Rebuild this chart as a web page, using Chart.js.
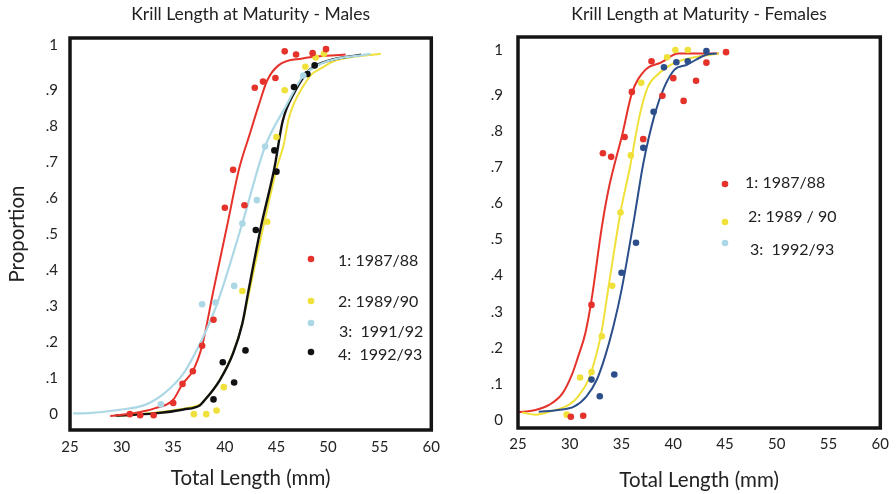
<!DOCTYPE html>
<html>
<head>
<meta charset="utf-8">
<script src="https://cdn.jsdelivr.net/npm/chart.js@4/dist/chart.umd.min.js"></script>
<style>
  body { margin: 0; background: #fff; }
  #wrap { position: relative; width: 896px; height: 494px; }
  canvas { position: absolute; top: 0; }
  #males { left: 0; }
  #females { left: 448px; }
</style>
</head>
<body>
<div id="wrap">
  <canvas id="males" width="448" height="494"></canvas>
  <canvas id="females" width="448" height="494"></canvas>
</div>
<script>
const FONT = 'Lato, "Open Sans", sans-serif';
const RED = '#e5322b';
const YELLOW = '#efe13a';
const LIGHTBLUE = '#acd8e5';
const BLACK = '#111111';
const NAVY = '#2c4f8c';

const xMin = 25, xMax = 60, xStep = 5;
// the "1" label sits a bit higher than a linear step above .9
const yTickValues = [0, 0.1, 0.2, 0.3, 0.4, 0.5, 0.6, 0.7, 0.8, 0.9, 1.025];
const yTickLabels = ['0', '.1', '.2', '.3', '.4', '.5', '.6', '.7', '.8', '.9', '1'];

// males - observed proportions [length mm, proportion]
const male1987 = [[30.8,0],[31.8,-0.003],[33.1,-0.003],[35.0,0.031],[35.9,0.084],[36.9,0.119],[37.8,0.19],[38.9,0.262],
  [40.0,0.573],[40.8,0.678],[41.9,0.58],[42.9,0.906],[43.7,0.923],[44.9,0.933],[45.8,1.007],[46.9,0.998],[48.5,1.002],[49.8,1.013]];
const male1989 = [[37.0,0],[38.2,0],[39.2,0.01],[39.9,0.075],[41.7,0.342],[44.1,0.534],[45.0,0.769],[45.8,0.899],
  [47.8,0.964],[48.8,0.99],[49.6,1.0]];
const male1991 = [[33.8,0.027],[37.8,0.305],[39.1,0.31],[40.9,0.356],[41.7,0.529],[43.1,0.594],[43.9,0.743],[47.6,0.94]];
const male1992 = [[38.9,0.041],[39.8,0.144],[40.9,0.088],[42.0,0.177],[43.0,0.511],[45.0,0.673],[44.8,0.732],
  [46.7,0.908],[48.0,0.944],[48.7,0.968]];

// males - fitted curves
const male1987Fit = [[28.9,-0.005],[31.0,0.002],[33.2,0.016],[35.0,0.04],[35.9,0.084],[36.9,0.12],[37.8,0.19],[38.9,0.344],
  [40.2,0.52],[41.4,0.683],[42.4,0.776],[43.3,0.859],[44.1,0.926],[45.2,0.968],[47.5,0.987],[51.7,0.998]];
const male1989Fit = [[29.6,-0.005],[33.2,0.004],[36.0,0.015],[37.6,0.027],[37.9,0.034],[39.5,0.094],[40.8,0.17],[41.7,0.252],
  [42.4,0.344],[43.8,0.53],[45.1,0.69],[45.7,0.748],[46.2,0.822],[46.8,0.869],[47.5,0.906],[48.4,0.943],[49.4,0.961],
  [50.6,0.98],[55.1,1.0]];
const male1991Fit = [[25.3,0.002],[26.8,0.003],[30.0,0.013],[32.2,0.025],[34.1,0.057],[36.0,0.113],[37.6,0.196],[38.9,0.28],
  [39.7,0.344],[41.7,0.53],[43.9,0.743],[45.9,0.854],[47.6,0.939],[49.4,0.974],[54.1,1.0]];
const male1992Fit = [[29.4,-0.004],[33.2,0.002],[36.0,0.013],[37.6,0.025],[37.9,0.034],[39.5,0.094],[40.8,0.169],[41.7,0.252],
  [42.3,0.344],[43.5,0.52],[44.8,0.683],[45.6,0.813],[46.8,0.896],[48.1,0.952],[49.4,0.975],[53.2,0.998]];

// females - observed proportions
const female1987 = [[30.1,0.009],[31.3,0.012],[32.1,0.319],[33.2,0.739],[34.0,0.729],[35.3,0.784],[36.0,0.909],[37.1,0.778],
  [37.9,0.994],[38.95,0.898],[40.0,0.947],[41.0,0.884],[42.2,0.94],[43.2,0.99],[45.1,1.019]];
const female1989 = [[29.7,0.015],[31.0,0.118],[32.1,0.133],[33.1,0.232],[34.1,0.372],[34.9,0.575],[35.9,0.733],[36.9,0.934],
  [39.4,1.005],[40.2,1.025],[41.4,1.025]];
const female1992 = [[32.1,0.112],[32.9,0.066],[34.3,0.126],[35.0,0.408],[36.4,0.491],[37.1,0.754],[38.1,0.854],[39.1,0.977],
  [40.3,0.991],[41.4,0.994],[43.2,1.022]];

// females - fitted curves
const female1987Fit = [[24.8,0.021],[26.7,0.028],[28.0,0.042],[29.3,0.074],[30.2,0.125],[30.8,0.175],[31.5,0.24],[32.1,0.332],
  [33.1,0.535],[33.8,0.646],[35.1,0.794],[36.0,0.905],[37.3,0.97],[38.8,0.99],[40.5,1.015],[44.4,1.015]];
const female1989Fit = [[25.4,0.021],[26.7,0.015],[28.0,0.023],[29.9,0.042],[30.8,0.065],[31.8,0.111],[32.6,0.185],[33.1,0.249],
  [33.7,0.36],[34.9,0.575],[35.8,0.698],[36.7,0.837],[37.5,0.92],[38.5,0.957],[40.1,0.989],[41.7,1.003],[44.4,1.015]];
const female1992Fit = [[27.0,0.023],[28.9,0.028],[30.4,0.037],[31.6,0.065],[32.6,0.111],[33.4,0.175],[34.2,0.258],[35.0,0.36],
  [36.25,0.563],[37.1,0.71],[38.2,0.846],[39.1,0.92],[40.1,0.97],[41.3,0.984],[43.2,1.012],[44.2,1.015]];

const maleLegend = ['1: 1987/88', '2: 1989/90', '3:  1991/92', '4:  1992/93'];
const maleLegendColors = [RED, YELLOW, LIGHTBLUE, BLACK];
const femaleLegend = ['1: 1987/88', '2: 1989 / 90', '3:  1992/93'];
const femaleLegendColors = [RED, YELLOW, LIGHTBLUE];

function pts(arr) {
  return arr.map(p => ({ x: p[0], y: p[1] }));
}

function dots(arr, color) {
  return { data: pts(arr), showLine: false, pointRadius: 3.3, pointBorderWidth: 0,
    pointBackgroundColor: color, backgroundColor: color, borderColor: color, order: 0 };
}

function curve(arr, color, width) {
  return { data: pts(arr), showLine: true, pointRadius: 0, borderColor: color, borderWidth: width,
    cubicInterpolationMode: 'monotone', fill: false, order: 1 };
}

// thick black box round the plot
const framePlugin = {
  id: 'frame',
  afterDraw(chart) {
    const a = chart.chartArea;
    const ctx = chart.ctx;
    ctx.save();
    ctx.strokeStyle = '#151515';
    ctx.lineWidth = 3.5;
    ctx.strokeRect(a.left, a.top, a.right - a.left, a.bottom - a.top);
    ctx.restore();
  }
};

// legend drawn inside the plot, as in the figure
const dotLegendPlugin = {
  id: 'dotLegend',
  afterDraw(chart, args, opts) {
    const ctx = chart.ctx;
    ctx.save();
    ctx.font = opts.size + 'px ' + FONT;
    ctx.textBaseline = 'middle';
    ctx.textAlign = 'left';
    opts.labels.forEach((label, i) => {
      ctx.fillStyle = opts.colors[i];
      ctx.beginPath();
      ctx.arc(opts.dotX, opts.dotY[i], 3.3, 0, Math.PI * 2);
      ctx.fill();
      ctx.fillStyle = '#222';
      ctx.fillText(label, opts.textX[i], opts.textY[i]);
    });
    ctx.restore();
  }
};

function makeOptions(cfg) {
  return {
    responsive: false,
    animation: false,
    layout: { padding: { top: 0, right: cfg.padRight, bottom: 0, left: 0 } },
    plugins: {
      legend: { display: false },
      tooltip: { enabled: false },
      title: {
        display: true, text: cfg.title, fullSize: false, color: '#222',
        font: { family: FONT, size: 17.5, weight: 'normal' },
        padding: { top: 3.5, bottom: cfg.titleGap }
      },
      dotLegend: cfg.legend
    },
    scales: {
      x: {
        type: 'linear', min: xMin, max: xMax,
        grid: { display: false, drawTicks: false },
        border: { display: false },
        ticks: { stepSize: xStep, padding: cfg.xTickPad, color: '#222', font: { family: FONT, size: 15 } },
        title: {
          display: true, text: 'Total Length (mm)', color: '#222',
          font: { family: FONT, size: 20.5 }, padding: { top: 0, bottom: cfg.xTitlePad }
        },
        afterFit: s => { s.height = cfg.xHeight; }
      },
      y: {
        type: 'linear', min: cfg.yMin, max: cfg.yMax,
        grid: { display: false, drawTicks: false },
        border: { display: false },
        afterBuildTicks: s => { s.ticks = yTickValues.map(v => ({ value: v })); },
        ticks: {
          autoSkip: false, padding: cfg.yTickPad, color: '#222', font: { family: FONT, size: 15 },
          callback: (v, i) => yTickLabels[i]
        },
        title: {
          display: cfg.yTitle, text: 'Proportion', color: '#222',
          font: { family: FONT, size: 20.5 }, padding: { top: 4.7, bottom: 0 }
        },
        afterFit: s => { s.width = 70; }
      }
    }
  };
}

new Chart(document.getElementById('males'), {
  type: 'scatter',
  data: {
    datasets: [
      dots(male1987, RED), dots(male1989, YELLOW), dots(male1991, LIGHTBLUE), dots(male1992, BLACK),
      curve(male1991Fit, LIGHTBLUE, 2.2), curve(male1987Fit, RED, 2),
      curve(male1992Fit, BLACK, 2.4), curve(male1989Fit, YELLOW, 2)
    ]
  },
  options: makeOptions({
    title: 'Krill Length at Maturity - Males',
    padRight: 13, titleGap: 13.5, xHeight: 64, xTickPad: 8, xTitlePad: 3.7,
    yMin: -0.044, yMax: 1.044, yTickPad: 12, yTitle: true,
    legend: {
      labels: maleLegend, colors: maleLegendColors, size: 16,
      dotX: 311, dotY: [259, 301, 323, 352],
      textX: [338, 338, 339, 338], textY: [261, 302, 332, 355]
    }
  }),
  plugins: [framePlugin, dotLegendPlugin]
});

new Chart(document.getElementById('females'), {
  type: 'scatter',
  data: {
    datasets: [
      dots(female1987, RED), dots(female1989, YELLOW), dots(female1992, NAVY),
      curve(female1992Fit, NAVY, 2), curve(female1989Fit, YELLOW, 2), curve(female1987Fit, RED, 2)
    ]
  },
  options: makeOptions({
    title: 'Krill Length at Maturity - Females',
    padRight: 15, titleGap: 12.5, xHeight: 66, xTickPad: 7, xTitlePad: 1.7,
    yMin: -0.022, yMax: 1.061, yTickPad: 15, yTitle: false,
    legend: {
      labels: femaleLegend, colors: femaleLegendColors, size: 16,
      dotX: 277, dotY: [184, 222, 243],
      textX: [297, 300, 302], textY: [183, 217, 250]
    }
  }),
  plugins: [framePlugin, dotLegendPlugin]
});
</script>
</body>
</html>
